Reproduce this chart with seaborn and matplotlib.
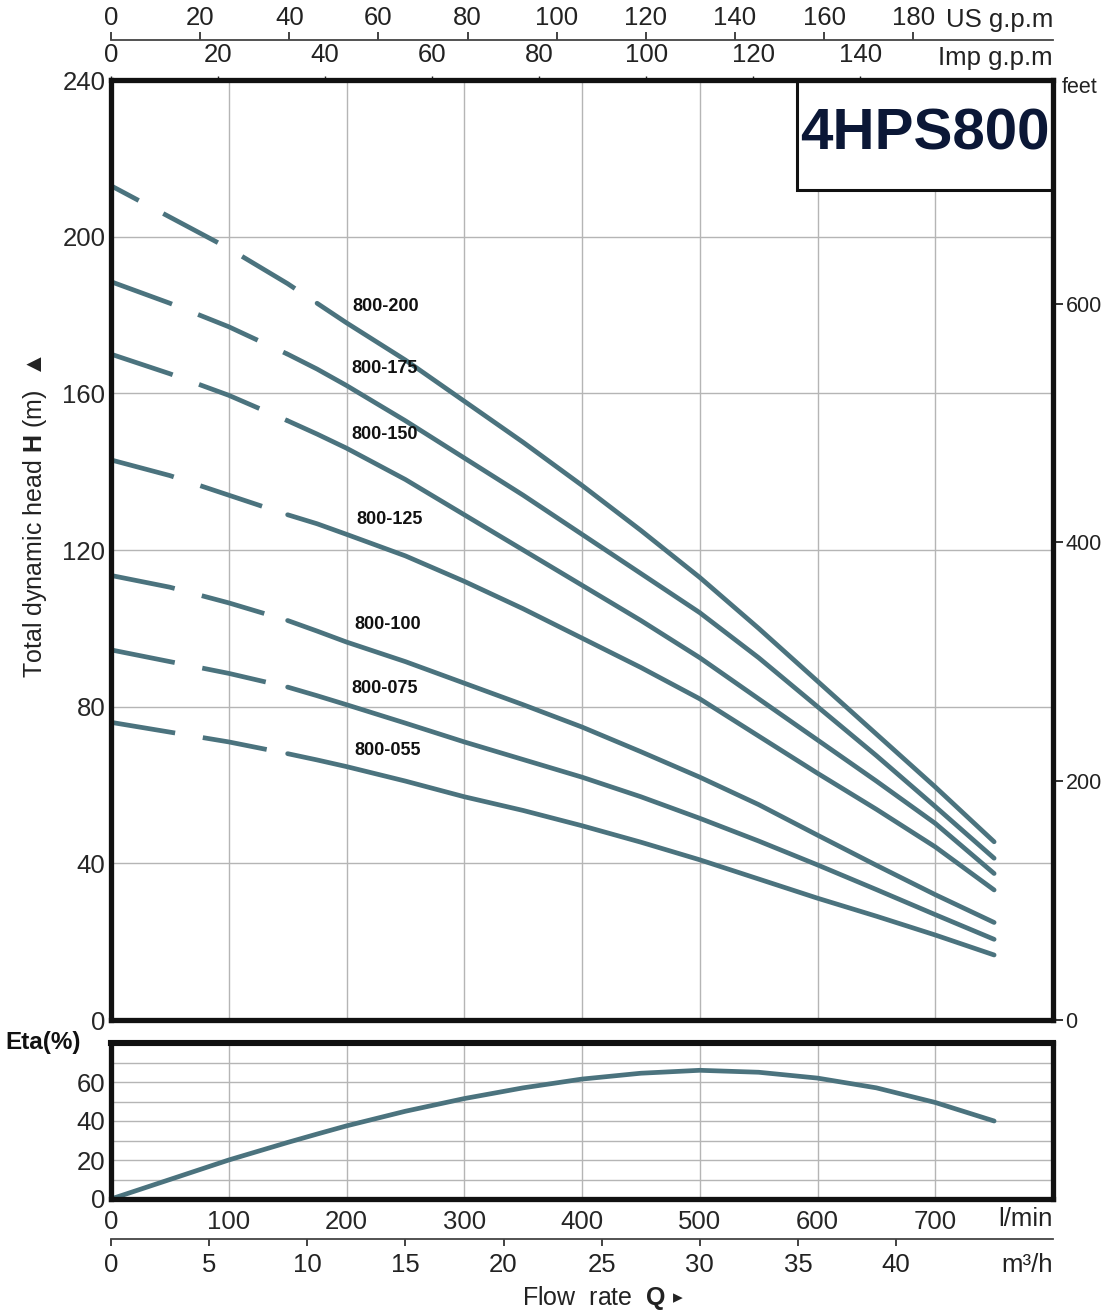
import numpy as np
import pandas as pd
import matplotlib
matplotlib.use("Agg")
import matplotlib.pyplot as plt
import seaborn as sns
from matplotlib.patches import Rectangle

# ---------------- data ----------------
flow_lpm = [0, 50, 100, 150, 175, 200, 250, 300, 350, 400, 450, 500, 550, 600, 650, 700, 750]
models = ["800-200", "800-175", "800-150", "800-125", "800-100", "800-075", "800-055"]
head_800_200 = [213, 205, 197, 188, 183, 178, 168.5, 158, 147.5, 136.5, 125, 113, 100, 86.5, 73, 59.5, 45.5]
head_800_175 = [188.5, 183, 177, 170, 166.2, 162, 153, 143.5, 134, 124, 114, 104, 92.5, 80, 67.5, 54.5, 41.3]
head_800_150 = [170, 165, 159.5, 153, 149.6, 146, 138, 129, 120, 111, 102, 92.5, 82, 71.5, 61, 50.2, 37.4]
head_800_125 = [143, 139, 134, 129, 126.7, 124, 118.5, 112, 105, 97.5, 90, 82, 72.5, 63, 53.8, 44.2, 33.2]
head_800_100 = [113.5, 110.5, 106.5, 102, 99.3, 96.5, 91.5, 86, 80.5, 74.8, 68.5, 62, 55, 47.2, 39.5, 32, 24.9]
head_800_075 = [94.5, 91.5, 88.5, 85, 82.8, 80.5, 75.8, 71, 66.5, 62, 57, 51.5, 45.7, 39.6, 33.3, 26.9, 20.6]
head_800_055 = [76, 73.5, 71, 68, 66.4, 64.7, 61, 57, 53.5, 49.6, 45.4, 40.9, 36, 31.1, 26.5, 21.7, 16.6]
efficiency = [0, 10, 20, 29, 33.3, 37.5, 45, 51.5, 57, 61.5, 64.5, 66, 65, 62, 57, 49.5, 40]
# flow below which each curve is drawn dashed
dashed_until = [175, 150, 150, 150, 150, 150, 150]

heads = [head_800_200, head_800_175, head_800_150, head_800_125,
         head_800_100, head_800_075, head_800_055]

# label anchor positions (l/min, m)
label_q = [205, 204, 204, 208, 207, 204, 207]
label_h = [182.1, 166.4, 149.5, 127.7, 101.1, 84.7, 68.8]

us_ticks = list(range(0, 181, 20))
imp_ticks = list(range(0, 141, 20))
lpm_ticks = list(range(0, 701, 100))
m3h_ticks = list(range(0, 41, 5))
h_ticks = list(range(0, 241, 40))
ft_ticks = [0, 200, 400, 600]
eta_ticks = [0, 20, 40, 60]

# ---------------- style ----------------
sns.set_style("white")
plt.rcParams["font.family"] = ["Liberation Sans", "DejaVu Sans"]
plt.rcParams["lines.scale_dashes"] = False
plt.rcParams["mathtext.fontset"] = "custom"
plt.rcParams["mathtext.rm"] = "Liberation Sans"
plt.rcParams["mathtext.bf"] = "Liberation Sans:bold"

LINE = "#4b737e"
GRID = "#b5b5b5"
TICK_FS = 18.5
W, H = 1112, 1315
fig = plt.figure(figsize=(W / 100, H / 100), dpi=100)

def fx(px):
    return px / W

def fy(py):
    return 1 - py / H

ax = fig.add_axes([fx(111), fy(1020), fx(1053) - fx(111), fy(80) - fy(1020)])
ax_eta = fig.add_axes([fx(111), fy(1199), fx(1053) - fx(111), fy(1043) - fy(1199)])

# ---------------- head curves ----------------
df = pd.DataFrame({"Q": np.repeat([flow_lpm], len(models), axis=0).ravel(),
                   "H": np.concatenate(heads),
                   "model": np.repeat(models, len(flow_lpm))})
for i, m in enumerate(models):
    sub = df[df["model"] == m]
    dash_part = sub[sub["Q"] <= dashed_until[i]]
    solid_part = sub[sub["Q"] >= dashed_until[i]]
    if i == 0:
        ls = (22.0, (44.6, 20.0))
    else:
        ls = (0, (46.8, 20.2))
    sns.lineplot(data=dash_part, x="Q", y="H", ax=ax, color=LINE, linewidth=3.4,
                 linestyle=ls, dash_capstyle="butt", estimator=None, sort=False, zorder=4)
    sns.lineplot(data=solid_part, x="Q", y="H", ax=ax, color=LINE, linewidth=3.4,
                 solid_capstyle="round", solid_joinstyle="round",
                 estimator=None, sort=False, zorder=4)
    ax.text(label_q[i], label_h[i], m, fontsize=13, fontweight="bold",
            ha="left", va="center", color="#111111", zorder=5)

ax.set_xlim(0, 800)
ax.set_ylim(0, 240)
ax.set_xticks(range(0, 801, 100))
ax.set_yticks(h_ticks)
ax.set_xticklabels([])
ax.set_xlabel("")
ax.set_ylabel("")
ax.grid(True, color=GRID, linewidth=1.0)
ax.tick_params(axis="x", length=0)
ax.tick_params(axis="y", length=0, pad=4, labelsize=TICK_FS)
for s in ax.spines.values():
    s.set_visible(True)
    s.set_color("#111111")
    s.set_linewidth(3.8)
    s.set_zorder(6)

# title box
ax.add_patch(Rectangle((0.728, 0.883), 0.272, 0.117, transform=ax.transAxes,
                       facecolor="white", edgecolor="#111111", linewidth=2.2, zorder=5))
ax.text(0.864, 0.9415, "4HPS800", transform=ax.transAxes, fontsize=42,
        fontweight="bold", color="#0b1736", ha="center", va="center", zorder=6)

# right feet axis
sec_ft = ax.secondary_yaxis("right", functions=(lambda h: h * 3.28084, lambda f: f / 3.28084))
sec_ft.set_yticks(ft_ticks)
sec_ft.tick_params(length=7, width=1.3, pad=2, labelsize=15.5, colors="#222222")
sec_ft.spines["right"].set_visible(False)
ax.text(1.0096, 0.9915, "feet", transform=ax.transAxes, fontsize=15.5,
        ha="left", va="center", color="#222222")

# top Imp g.p.m axis
sec_imp = ax.secondary_xaxis("top", functions=(lambda q: q / 4.54609, lambda g: g * 4.54609))
sec_imp.set_xticks(imp_ticks)
sec_imp.tick_params(length=3, width=1.0, pad=6, labelsize=TICK_FS, colors="#222222")
sec_imp.spines["top"].set_visible(False)
ax.text(1.0, 1.0106, "Imp g.p.m", transform=ax.transAxes, fontsize=TICK_FS,
        ha="right", va="bottom", color="#222222")

# top US g.p.m axis
sec_us = ax.secondary_xaxis(1.0426, functions=(lambda q: q / 3.78541, lambda g: g * 3.78541))
sec_us.set_xticks(us_ticks)
sec_us.tick_params(length=6, width=1.2, pad=1, labelsize=TICK_FS, colors="#222222")
sec_us.spines["top"].set_visible(True)
sec_us.spines["top"].set_color("#444444")
sec_us.spines["top"].set_linewidth(1.3)
ax.text(1.0, 1.0511, "US g.p.m", transform=ax.transAxes, fontsize=TICK_FS,
        ha="right", va="bottom", color="#222222")

# ---------------- efficiency panel ----------------
eta_df = pd.DataFrame({"Q": flow_lpm, "eta": efficiency})
sns.lineplot(data=eta_df, x="Q", y="eta", ax=ax_eta, color=LINE, linewidth=3.4,
             solid_capstyle="round", solid_joinstyle="round",
             estimator=None, sort=False, zorder=4)
ax_eta.set_xlim(0, 800)
ax_eta.set_ylim(0, 80)
ax_eta.set_xticks(lpm_ticks)
ax_eta.set_xticks([800], minor=True)
ax_eta.set_yticks(eta_ticks)
ax_eta.set_yticks([10, 30, 50, 70], minor=True)
ax_eta.set_xlabel("")
ax_eta.set_ylabel("")
ax_eta.grid(True, which="both", color=GRID, linewidth=1.0)
ax_eta.tick_params(axis="x", which="both", length=0, pad=8, labelsize=TICK_FS)
ax_eta.tick_params(axis="y", which="both", length=0, pad=4, labelsize=TICK_FS)
for s in ax_eta.spines.values():
    s.set_visible(True)
    s.set_color("#111111")
    s.set_linewidth(3.8)
    s.set_zorder(6)
ax_eta.spines["top"].set_linewidth(4.4)
ax_eta.text(1.0, -0.05, "l/min", transform=ax_eta.transAxes, fontsize=TICK_FS,
            ha="right", va="top", color="#222222")

# m3/h axis
sec_m3 = ax_eta.secondary_xaxis(-0.2564, functions=(lambda q: q * 0.06, lambda v: v / 0.06))
sec_m3.set_xticks(m3h_ticks)
sec_m3.tick_params(length=5, width=1.2, pad=5, labelsize=TICK_FS, colors="#222222")
sec_m3.spines["bottom"].set_color("#444444")
sec_m3.spines["bottom"].set_linewidth(1.3)
ax_eta.text(1.0, -0.345, "m³/h", transform=ax_eta.transAxes, fontsize=TICK_FS,
            ha="right", va="top", color="#222222")

# ---------------- labels ----------------
fig.text(fx(35), fy(516), r"Total dynamic head $\mathbf{H}$ (m)  ▲", rotation=90,
         fontsize=18, ha="center", va="center", color="#222222")
flow_txt = fig.text(fx(522), fy(1298), r"Flow  rate  $\mathbf{Q}$", fontsize=18,
                    ha="left", va="center", color="#222222")
ax_eta.annotate("▸", xy=(1, 0.5), xycoords=flow_txt, xytext=(5, 0),
                textcoords="offset points", ha="left", va="center", fontsize=14,
                family=["DejaVu Sans"], color="#222222", annotation_clip=False)
fig.text(fx(5), fy(1043), "Eta(%)", fontsize=17.5, fontweight="bold",
         ha="left", va="center", color="#111111")

fig.savefig("out.png", dpi=100, facecolor="white")
